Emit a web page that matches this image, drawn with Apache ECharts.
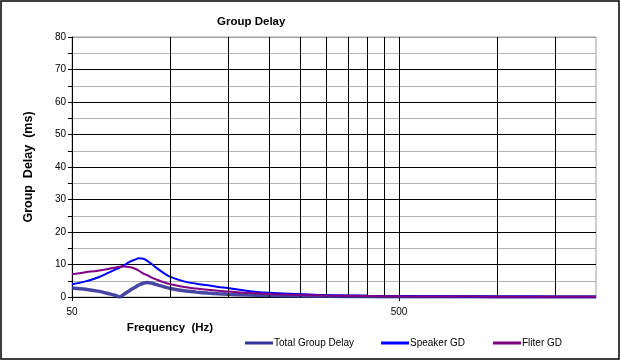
<!DOCTYPE html>
<html>
<head>
<meta charset="utf-8">
<script src="https://cdn.jsdelivr.net/npm/echarts@6/dist/echarts.min.js"></script>
<style>
html,body{margin:0;padding:0;background:#fff;}
#chart{width:621px;height:361px;}
</style>
</head>
<body>
<div id="chart"></div>
<script>
// Frequencies (Hz)
const freqs = [50,55,60,65,68,70,72,75,78,80,83,85,88,90,95,100,110,120,130,140,150,175,200,250,300,400,500,700,1000,1500,2000];
// Group delay values (ms)
const totalGD   = [2.8,2.4,1.8,1.0,0.5,0.0,0.8,2.0,3.0,3.7,4.3,4.5,4.2,3.9,3.2,2.6,1.9,1.5,1.2,1.0,0.85,0.6,0.45,0.3,0.2,0.12,0.08,0.05,0.03,0.02,0.02];
const speakerGD = [3.9,4.8,6.0,7.6,8.5,9.1,9.7,10.8,11.5,11.9,11.7,11.1,10.0,9.2,7.5,6.2,4.8,4.1,3.6,3.1,2.8,1.8,1.3,0.9,0.6,0.4,0.3,0.2,0.15,0.1,0.1];
const filterGD  = [7.0,7.6,8.1,8.7,9.1,9.3,9.4,9.2,8.7,8.1,7.1,6.7,5.9,5.5,4.6,3.9,3.1,2.6,2.2,1.9,1.7,1.2,0.9,0.6,0.45,0.3,0.2,0.15,0.1,0.08,0.05];
// Axis tick labels
const xLabelValues = [50,500];
const xGridValues = [100,150,200,250,300,350,400,450,500,1000,1500];
const seriesNames = ['Total Group Delay','Speaker GD','Fliter GD'];

const pairs = arr => freqs.map((f,i)=>[f,arr[i]]);

const chart = echarts.init(document.getElementById('chart'), null, {renderer:'canvas'});
const font = 'Liberation Sans, Arial, sans-serif';
const legendLefts = [245,381,493];
chart.setOption({
  animation:false,
  backgroundColor:'#fff',
  textStyle:{fontFamily:font},
  graphic:[{type:'rect',shape:{x:1,y:1,width:618,height:358},style:{fill:'none',stroke:'#000',lineWidth:1.5},silent:true}],
  title:{text:'Group Delay',left:217,top:16,padding:0,
    textStyle:{fontFamily:font,fontSize:11.5,fontWeight:'bold',color:'#000'}},
  legend:seriesNames.map((n,i)=>({
    data:[n],left:legendLefts[i],top:338,padding:0,itemWidth:28,itemHeight:3,
    icon:'rect',
    textStyle:{fontFamily:font,fontSize:10,color:'#000',padding:[0,0,0,-4]}
  })),
  grid:{left:72,top:37,width:524,height:260,show:true,borderColor:'#a0a0a0',borderWidth:1,backgroundColor:'#fff'},
  xAxis:{
    type:'log',logBase:10,min:50,max:2000,
    name:'Frequency  (Hz)',nameLocation:'middle',nameGap:20,
    nameTextStyle:{fontFamily:font,fontSize:11.5,fontWeight:'bold',color:'#000',padding:[0,328,0,0]},
    axisLine:{show:true,lineStyle:{color:'#000',width:1}},
    axisTick:{show:true,length:4,customValues:xLabelValues,lineStyle:{color:'#000'}},
    axisLabel:{customValues:xLabelValues,margin:10,fontSize:10,color:'#000',fontFamily:font},
    splitLine:{show:false},
    minorTick:{show:false},minorSplitLine:{show:false}
  },
  yAxis:{
    type:'value',min:0,max:80,interval:10,
    name:'Group  Delay  (ms)',nameLocation:'middle',nameGap:37,
    nameTextStyle:{fontFamily:font,fontSize:12.5,fontWeight:'bold',color:'#000'},
    axisLine:{show:true,lineStyle:{color:'#000',width:1}},
    axisTick:{show:true,length:4,lineStyle:{color:'#000'}},
    minorTick:{show:true,splitNumber:2,length:4,lineStyle:{color:'#000'}},
    axisLabel:{margin:6,fontSize:10,color:'#000',fontFamily:font},
    splitLine:{show:true,lineStyle:{color:['#000','#000','#000','#000','#000','#000','#000','#000','#a0a0a0'],width:1}},
    minorSplitLine:{show:true,lineStyle:{color:'#b4b4b4',width:1}}
  },
  series:[
    {type:'line',name:'_grid',data:[],z:1,silent:true,
     markLine:{silent:true,symbol:['none','none'],label:{show:false},animation:false,
       lineStyle:{color:'#000',width:1,type:'solid'},emphasis:{disabled:true},
       data:xGridValues.map(v=>({xAxis:v}))}},
    {type:'line',name:seriesNames[0],data:pairs(totalGD),showSymbol:false,smooth:0.25,z:3,
     itemStyle:{color:'#333399'},lineStyle:{color:'#333399',width:3.5,opacity:0.9}},
    {type:'line',name:seriesNames[1],data:pairs(speakerGD),showSymbol:false,smooth:0.4,z:4,
     itemStyle:{color:'#0000ff'},lineStyle:{color:'#0000ff',width:2}},
    {type:'line',name:seriesNames[2],data:pairs(filterGD),showSymbol:false,smooth:0.4,z:5,
     itemStyle:{color:'#800080'},lineStyle:{color:'#800080',width:2}}
  ]
});
</script>
</body>
</html>
